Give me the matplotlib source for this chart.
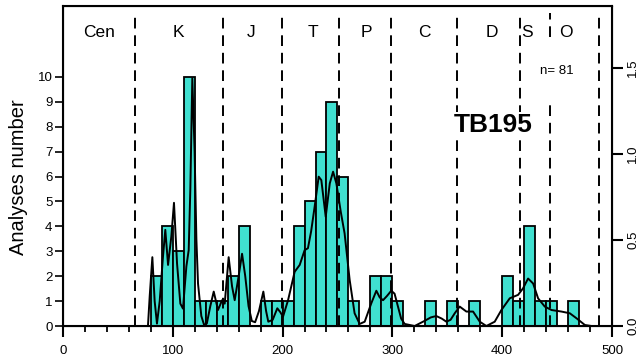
import matplotlib
matplotlib.use("Agg")
import matplotlib.pyplot as plt

plt.rcParams['font.family'] = ['Liberation Sans', 'DejaVu Sans']

# histogram: counts per 10 Ma bin, bins start at 80 Ma
bin_start = list(range(80, 480, 10))
counts = [2, 4, 3, 10, 1, 1, 1, 2, 4, 0,
          1, 1, 1, 4, 5, 7, 9, 6, 1, 0,
          2, 2, 1, 0, 0, 1, 0, 1, 0, 1,
          0, 0, 2, 1, 4, 1, 1, 0, 1, 0]

# probability density curve (right axis)
pdp_age = [70, 77.4, 79.0, 81.4, 83.5, 85.6, 88.1, 91.1, 93.2, 95.7, 98.7, 101.1,
           103.9, 106.9, 109.3, 112.4, 114.5, 116.0, 117.8, 119.9, 121.5, 123, 126,
           128.5, 131, 134.2, 137.3, 141.2, 144.9, 147.3, 150.9, 154, 156.4, 160,
           163.1, 166, 169, 172, 175, 178.5, 182.5, 185, 187, 191, 195.2, 198, 200.4,
           205, 211, 215.6, 220.1, 223.1, 226, 229.2, 232.9, 235.3, 239.3, 243, 246,
           249, 253, 256.5, 261.1, 265.6, 270.2, 274.8, 280.8, 285.4, 288.5, 291.5,
           295, 299, 302, 305.1, 308, 311.2, 320.3, 329.4, 335, 340, 345, 349.2, 353,
           356.8, 361.3, 367.4, 373.5, 379.6, 385.6, 393.2, 399.3, 406.9, 414.5, 419,
           423.6, 428.2, 432.7, 438.8, 444.9, 454, 461.6, 467.7, 475.3, 481.4, 486]
pdp_val = [0, 0, 0.174, 0.40, 0.145, 0.014, 0.145, 0.405, 0.559, 0.355, 0.521, 0.716,
           0.362, 0.130, 0.101, 0.347, 0.441, 0.796, 1.44, 1.013, 0.506, 0.246, 0.058,
           0.007, 0.014, 0.116, 0.20, 0.093, 0.15, 0.13, 0.40, 0.23, 0.15, 0.29,
           0.42, 0.29, 0.116, 0.029, 0.022, 0.087, 0.20, 0.087, 0.025, 0.036, 0.103, 0.08, 0.054,
           0.15, 0.315, 0.355, 0.441, 0.452, 0.55, 0.693, 0.868, 0.848, 0.635, 0.829, 0.897,
           0.829, 0.664, 0.538, 0.268, 0.074, 0.012, 0.025, 0.132, 0.205, 0.166, 0.15,
           0.174, 0.205, 0.188, 0.113, 0.043, 0.012, 0, 0.03, 0.05, 0.058, 0.043, 0.025, 0.036,
           0.074, 0.113, 0.084, 0.084, 0.025, 0, 0.025, 0.093, 0.161, 0.181, 0.219,
           0.276, 0.247, 0.161, 0.113, 0.093, 0.084, 0.074, 0.045, 0.006, 0, 0]

# period boundaries (Ma) and labels
boundaries = [65.5, 145.5, 199.6, 251, 299, 359.2, 416, 443.7, 488.3]
periods = ['Cen', 'K', 'J', 'T', 'P', 'C', 'D', 'S', 'O']
period_pos = [33, 105, 171, 228, 276, 329, 391, 423, 458]

fig = plt.figure(figsize=(6.38, 3.63), dpi=100)
ax = fig.add_axes([0.0987, 0.1019, 0.8605, 0.8816])

ax.bar(bin_start, counts, width=10, align='edge', color='#40E0D0',
       edgecolor='black', linewidth=1.3, zorder=2)

dash = (0, (5.5, 3.5))
for b in boundaries:
    if b == 443.7:
        # broken around the "n= 81" label
        ax.vlines(b, 0, 8.95, colors='black', linestyles=dash, lw=1.4, zorder=3)
        ax.vlines(b, 11.6, 12.57, colors='black', linestyles=dash, lw=1.4, zorder=3)
    else:
        ax.vlines(b, 0, 12.57, colors='black', linestyles=dash, lw=1.4, zorder=3)

for name, p in zip(periods, period_pos):
    ax.text(p, 11.78, name, ha='center', va='center', fontsize=12.5)

ax.text(450, 10.25, 'n= 81', ha='center', va='center', fontsize=9.5)
ax.text(391.5, 8.07, 'TB195', ha='center', va='center', fontsize=19,
        fontweight='bold', zorder=5,
        bbox=dict(facecolor='white', edgecolor='none', pad=1))

ax.set_xlim(0, 500)
ax.set_ylim(0, 12.85)
ax.set_xticks(range(0, 501, 100))
ax.set_xticks(range(0, 501, 20), minor=True)
ax.set_yticks(range(0, 11))
ax.tick_params(axis='x', which='major', length=8, width=1.5, labelsize=9.5, pad=6)
ax.tick_params(axis='x', which='minor', length=4.5, width=1.3)
ax.tick_params(axis='y', length=6, width=1.2, labelsize=9.5, pad=1.5)
ax.set_ylabel('Analyses number', fontsize=14.5)
ax.yaxis.set_label_coords(-0.063, 0.465)
for s in ax.spines.values():
    s.set_linewidth(1.5)

ax2 = ax.twinx()
ax2.plot(pdp_age, pdp_val, color='black', lw=1.4, zorder=3)
ax2.set_ylim(0, 1.86)
ax2.set_yticks([0.0, 0.5, 1.0, 1.5])
ax2.set_yticklabels(['0.0', '0.5', '1.0', '1.5'], rotation=90, va='center')
ax2.tick_params(axis='y', length=8, width=1.5, labelsize=9.5, pad=3)
ax2.patch.set_visible(False)

fig.savefig('out.png', dpi=100)
